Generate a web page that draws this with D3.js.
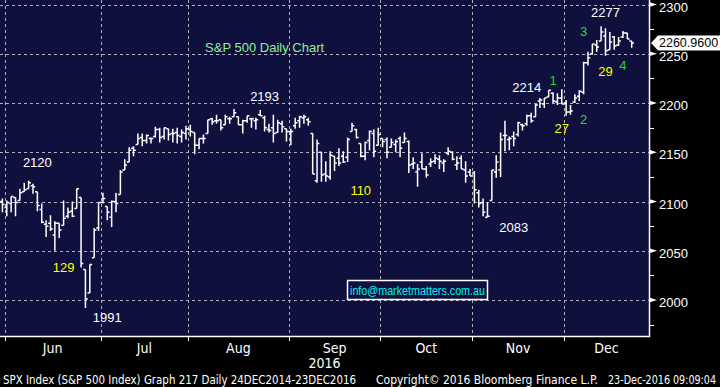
<!DOCTYPE html>
<html>
<head>
<meta charset="utf-8">
<script src="https://cdn.jsdelivr.net/npm/d3@7"></script>
<style>
  body { margin: 0; background: #000; }
  svg { display: block; }
</style>
</head>
<body>
<div id="chart"></div>
<script>
const width = 720,
    height = 387,
    panel = ({ left: 0, top: 0, right: 649, bottom: 336 });

// S&P 500 daily bars, 27 May - 22 Dec 2016
const dates = [
  "2016-05-27","2016-05-31",
  "2016-06-01","2016-06-02","2016-06-03","2016-06-06","2016-06-07","2016-06-08","2016-06-09","2016-06-10",
  "2016-06-13","2016-06-14","2016-06-15","2016-06-16","2016-06-17","2016-06-20","2016-06-21","2016-06-22",
  "2016-06-23","2016-06-24","2016-06-27","2016-06-28","2016-06-29","2016-06-30",
  "2016-07-01","2016-07-05","2016-07-06","2016-07-07","2016-07-08","2016-07-11","2016-07-12","2016-07-13",
  "2016-07-14","2016-07-15","2016-07-18","2016-07-19","2016-07-20","2016-07-21","2016-07-22","2016-07-25",
  "2016-07-26","2016-07-27","2016-07-28","2016-07-29",
  "2016-08-01","2016-08-02","2016-08-03","2016-08-04","2016-08-05","2016-08-08","2016-08-09","2016-08-10",
  "2016-08-11","2016-08-12","2016-08-15","2016-08-16","2016-08-17","2016-08-18","2016-08-19","2016-08-22",
  "2016-08-23","2016-08-24","2016-08-25","2016-08-26","2016-08-29","2016-08-30","2016-08-31",
  "2016-09-01","2016-09-02","2016-09-06","2016-09-07","2016-09-08","2016-09-09","2016-09-12","2016-09-13",
  "2016-09-14","2016-09-15","2016-09-16","2016-09-19","2016-09-20","2016-09-21","2016-09-22","2016-09-23",
  "2016-09-26","2016-09-27","2016-09-28","2016-09-29","2016-09-30",
  "2016-10-03","2016-10-04","2016-10-05","2016-10-06","2016-10-07","2016-10-10","2016-10-11","2016-10-12",
  "2016-10-13","2016-10-14","2016-10-17","2016-10-18","2016-10-19","2016-10-20","2016-10-21","2016-10-24",
  "2016-10-25","2016-10-26","2016-10-27","2016-10-28","2016-10-31",
  "2016-11-01","2016-11-02","2016-11-03","2016-11-04","2016-11-07","2016-11-08","2016-11-09","2016-11-10",
  "2016-11-11","2016-11-14","2016-11-15","2016-11-16","2016-11-17","2016-11-18","2016-11-21","2016-11-22",
  "2016-11-23","2016-11-25","2016-11-28","2016-11-29","2016-11-30",
  "2016-12-01","2016-12-02","2016-12-05","2016-12-06","2016-12-07","2016-12-08","2016-12-09","2016-12-12",
  "2016-12-13","2016-12-14","2016-12-15","2016-12-16","2016-12-19","2016-12-20","2016-12-21","2016-12-22"
];

const opens = [
  2090,2100,
  2094,2098,2104,2101,2110,2113,2116,2110,2092,2077,2078,2066,2078,2076,2085,2090,2093,2104,2031,2007,2043,2073,
  2099,2095,2084,2100,2107,2132,2140,2154,2158,2165,2162,2164,2166,2173,2166,2174,2169,2170,2166,2169,
  2173,2170,2157,2164,2169,2184,2182,2183,2178,2184,2186,2186,2178,2182,2184,2182,2188,2185,2173,2175,2170,2179,2174,
  2171,2177,2182,2185,2183,2169,2121,2150,2128,2125,2146,2144,2146,2145,2171,2173,2159,2146,2162,2169,2157,
  2164,2163,2155,2158,2164,2160,2161,2138,2130,2140,2133,2138,2141,2143,2139,2149,2150,2137,2144,2132,2130,
  2129,2109,2099,2084,2101,2130,2132,2167,2163,2166,2168,2178,2179,2187,2186,2202,2199,2206,2210,2201,2205,
  2200,2191,2201,2207,2211,2241,2250,2259,2263,2268,2254,2267,2259,2267,2271,2263
];

const highs = [
  2099,2103,
  2101,2105,2104,2113,2119,2121,2118,2110,2098,2081,2086,2080,2078,2101,2094,2100,2113,2104,2031,2036,2073,2099,
  2109,2095,2101,2109,2132,2143,2155,2156,2169,2169,2168,2165,2176,2175,2175,2174,2174,2175,2173,2177,
  2178,2170,2164,2168,2183,2185,2188,2183,2188,2186,2194,2186,2183,2187,2185,2185,2193,2187,2179,2188,2183,2182,2174,
  2174,2185,2187,2188,2185,2169,2163,2150,2141,2151,2146,2154,2151,2165,2180,2174,2159,2161,2172,2173,2175,
  2164,2165,2164,2163,2166,2170,2162,2145,2138,2149,2136,2144,2148,2147,2143,2155,2151,2146,2147,2141,2133,
  2131,2112,2103,2099,2132,2147,2170,2182,2166,2171,2181,2179,2188,2190,2199,2205,2205,2213,2211,2210,2214,
  2203,2198,2209,2213,2242,2252,2260,2264,2278,2276,2272,2268,2267,2273,2271,2263
];

const lows = [
  2090,2089,
  2085,2089,2085,2101,2110,2113,2108,2090,2078,2064,2070,2050,2063,2076,2083,2084,2093,2033,1992,2007,2043,2070,
  2098,2081,2074,2089,2107,2132,2140,2146,2158,2156,2159,2159,2165,2160,2163,2162,2160,2159,2160,2163,
  2166,2148,2153,2159,2169,2178,2179,2172,2178,2179,2186,2178,2169,2180,2175,2173,2187,2171,2170,2160,2170,2170,2161,
  2157,2174,2175,2179,2177,2128,2119,2120,2120,2122,2131,2136,2139,2140,2171,2164,2145,2142,2152,2145,2157,
  2155,2144,2155,2150,2145,2160,2129,2133,2115,2133,2124,2135,2138,2133,2130,2147,2142,2132,2133,2119,2126,
  2098,2094,2085,2084,2101,2124,2125,2151,2152,2156,2166,2172,2177,2180,2186,2195,2195,2206,2200,2198,2199,
  2187,2188,2200,2202,2209,2238,2249,2252,2263,2248,2254,2254,2258,2266,2265,2256
];

const closes = [
  2099,2097,
  2099,2105,2099,2109,2112,2119,2115,2096,2079,2075,2072,2078,2071,2083,2089,2085,2113,2037,2001,2036,2071,2099,
  2103,2089,2100,2098,2130,2137,2152,2152,2164,2162,2167,2164,2173,2165,2175,2168,2169,2167,2170,2174,
  2171,2157,2164,2164,2183,2181,2182,2175,2186,2184,2190,2178,2182,2187,2184,2183,2187,2175,2172,2169,2180,2176,2171,
  2171,2180,2186,2186,2181,2128,2159,2127,2126,2147,2139,2139,2140,2163,2177,2165,2146,2160,2171,2151,2168,
  2161,2150,2160,2161,2154,2164,2137,2139,2133,2133,2127,2140,2144,2141,2141,2151,2143,2139,2133,2126,2126,
  2112,2098,2089,2085,2132,2140,2163,2167,2164,2164,2180,2177,2187,2182,2198,2203,2205,2213,2202,2205,2199,
  2191,2192,2205,2212,2241,2246,2260,2257,2272,2253,2262,2258,2263,2271,2265,2260.96
];

const yTicks = [2000, 2050, 2100, 2150, 2200, 2250, 2300];
const yMinorTicks = [1975, 2025, 2075, 2125, 2175, 2225, 2275];
const lastPrice = 2260.96;

// chart annotations: text, date it sits over, price level of its baseline
const notes = [
  { text: "S&P 500 Daily Chart", date: "2016-08-24", price: 2252, color: "#8fef8f" },
  { text: "2120", date: "2016-06-10", price: 2135, color: "#ffffff" },
  { text: "129", date: "2016-06-20", price: 2028, color: "#ffff00" },
  { text: "1991", date: "2016-07-05", price: 1978, color: "#ffffff" },
  { text: "2193", date: "2016-08-24", price: 2202, color: "#ffffff" },
  { text: "110", date: "2016-09-26", price: 2107, color: "#ffff00" },
  { text: "2083", date: "2016-11-14", price: 2069, color: "#ffffff" },
  { text: "2214", date: "2016-11-17", price: 2211, color: "#ffffff" },
  { text: "1", date: "2016-11-28", price: 2218, color: "#22dd22" },
  { text: "27", date: "2016-11-30", price: 2170, color: "#ffff00" },
  { text: "2", date: "2016-12-07", price: 2179, color: "#22dd22" },
  { text: "3", date: "2016-12-07", price: 2268, color: "#22dd22" },
  { text: "2277", date: "2016-12-14", price: 2287, color: "#ffffff" },
  { text: "29", date: "2016-12-14", price: 2227, color: "#ffff00" },
  { text: "4", date: "2016-12-20", price: 2234, color: "#22dd22" }
];

const monthNames = ["Jan","Feb","Mar","Apr","May","Jun","Jul","Aug","Sep","Oct","Nov","Dec"];

const svg = d3.select("#chart")
  .append("svg")
  .attr("width", width)
  .attr("height", height)
  .attr("viewBox", [0, 0, width, height]);

const parse = d3.timeParse("%Y-%m-%d");
const bars = dates.map((d, i) => ({
  i: i, date: parse(d), o: opens[i], h: highs[i], l: lows[i], c: closes[i]
}));

// one slot per trading day
let x = d3.scaleLinear()
  .domain([0.45, 148.96])
  .range([panel.left, panel.right]);

let y = d3.scaleLinear()
  .domain([1963.45, 2304.6])
  .range([panel.bottom, panel.top]);

const idx = d => dates.indexOf(d);

svg.append("rect")
  .attr("x", panel.left).attr("y", panel.top)
  .attr("width", panel.right - panel.left)
  .attr("height", panel.bottom - panel.top)
  .attr("fill", "#10103f");

svg.append("clipPath").attr("id", "clip")
  .append("rect")
  .attr("x", panel.left).attr("y", panel.top)
  .attr("width", panel.right - panel.left)
  .attr("height", panel.bottom - panel.top);

// month boundaries (between last day of a month and first of the next)
let monthStarts = [];
bars.forEach((b, i) => {
  if (i > 0 && b.date.getMonth() !== bars[i - 1].date.getMonth()) monthStarts.push(i);
});
const monthX = monthStarts.map(d => Math.round(x(d - 0.5)) + 0.5);

// dashed grid
const gridPath = yTicks.map(d => `M${panel.left},${Math.round(y(d)) + 0.5}H${panel.right}`).join("")
  + monthX.map(px => `M${px},${panel.top}V${panel.bottom}`).join("");
svg.append("path")
  .attr("d", gridPath)
  .attr("fill", "none")
  .attr("stroke", "#b0b0c0")
  .attr("stroke-width", 1)
  .attr("stroke-dasharray", "3,3");

// OHLC bars
svg.append("g")
  .attr("clip-path", "url(#clip)")
  .attr("fill", "none")
  .attr("stroke", "#ffffff")
  .attr("stroke-width", 1.5)
  .selectAll("path")
  .data(bars)
  .join("path")
  .attr("d", d => {
    const cx = x(d.i);
    return `M${cx},${y(d.h)}V${y(d.l)}M${cx - 2.3},${y(d.o)}H${cx}M${cx},${y(d.c)}H${cx + 2.3}`;
  });

// annotations
svg.append("g")
  .attr("font-family", "'Liberation Sans', Arial, sans-serif")
  .attr("font-size", 13)
  .attr("text-anchor", "middle")
  .selectAll("text")
  .data(notes)
  .join("text")
  .attr("x", d => x(idx(d.date)))
  .attr("y", d => y(d.price))
  .attr("fill", d => d.color)
  .text(d => d.text);

// email box
const info = svg.append("g");
info.append("rect")
  .attr("x", 347.5).attr("y", 280.5)
  .attr("width", 140).attr("height", 19)
  .attr("fill", "#10103f")
  .attr("stroke", "#ffffff")
  .attr("stroke-width", 1.5);
info.append("text")
  .attr("x", 350).attr("y", 295)
  .attr("textLength", 135).attr("lengthAdjust", "spacingAndGlyphs")
  .attr("font-family", "'Liberation Sans', Arial, sans-serif")
  .attr("font-size", 13)
  .attr("fill", "#00f0f0")
  .text("info@marketmatters.com.au");

// frame on right and bottom
svg.append("path")
  .attr("d", `M${panel.right + 0.5},${panel.top}V${panel.bottom + 0.5}H${panel.left}`)
  .attr("fill", "none")
  .attr("stroke", "#ffffff")
  .attr("stroke-width", 1.5);

// right axis
const yAxis = svg.append("g");
yAxis.selectAll("path.maj")
  .data(yTicks)
  .join("path")
  .attr("class", "maj")
  .attr("d", d => `M${panel.right},${y(d) - 2.5}L${panel.right + 8},${y(d)}L${panel.right},${y(d) + 2.5}Z`)
  .attr("fill", "#ffffff");
yAxis.selectAll("line.min")
  .data(yMinorTicks)
  .join("line")
  .attr("class", "min")
  .attr("x1", panel.right).attr("x2", panel.right + 5)
  .attr("y1", d => Math.round(y(d)) + 0.5)
  .attr("y2", d => Math.round(y(d)) + 0.5)
  .attr("stroke", "#ffffff");
yAxis.selectAll("text")
  .data(yTicks)
  .join("text")
  .attr("x", panel.right + 10)
  .attr("y", d => y(d) + 7)
  .attr("font-family", "'Liberation Sans', Arial, sans-serif")
  .attr("font-size", 13)
  .attr("fill", "#ffffff")
  .text(d => d);

// last price flag
const yl = y(lastPrice);
svg.append("path")
  .attr("d", `M${panel.right + 2},${yl}L${panel.right + 9},${yl - 7.5}H${width}V${yl + 7.5}H${panel.right + 9}Z`)
  .attr("fill", "#ffffff");
svg.append("text")
  .attr("x", panel.right + 10)
  .attr("y", yl + 4.5)
  .attr("font-family", "'Liberation Sans', Arial, sans-serif")
  .attr("font-size", 12.5)
  .attr("fill", "#000000")
  .text(d3.format(".4f")(lastPrice));

// bottom axis ticks
svg.append("path")
  .attr("d", monthX.map(px => `M${px},${panel.bottom}V${panel.bottom + 5}`).join(""))
  .attr("stroke", "#ffffff")
  .attr("stroke-width", 1);

const monthEdges = monthStarts.map(d => x(d - 0.5)).concat([panel.right]);
svg.append("g")
  .attr("font-family", "'Liberation Sans Narrow', 'DejaVu Sans Condensed', sans-serif")
  .attr("font-size", 14)
  .attr("fill", "#ffffff")
  .attr("text-anchor", "middle")
  .selectAll("text")
  .data(monthStarts)
  .join("text")
  .attr("x", (d, k) => (monthEdges[k] + monthEdges[k + 1]) / 2)
  .attr("y", 353)
  .text(d => monthNames[bars[d].date.getMonth()]);

svg.append("text")
  .attr("x", (panel.left + panel.right) / 2)
  .attr("y", 368)
  .attr("text-anchor", "middle")
  .attr("font-family", "'Liberation Sans Narrow', 'DejaVu Sans Condensed', sans-serif")
  .attr("font-size", 14)
  .attr("fill", "#ffffff")
  .text("2016");

// footer
const footer = svg.append("g")
  .attr("font-family", "'Liberation Sans Narrow', 'DejaVu Sans Condensed', sans-serif")
  .attr("font-size", 12)
  .attr("fill", "#ffffff");
footer.append("text").attr("x", 3).attr("y", 384)
  .attr("textLength", 353).attr("lengthAdjust", "spacingAndGlyphs")
  .text("SPX Index (S&P 500 Index) Graph 217  Daily 24DEC2014-23DEC2016");
footer.append("text").attr("x", 376).attr("y", 384)
  .attr("textLength", 222).attr("lengthAdjust", "spacingAndGlyphs")
  .text("Copyright\u00a9 2016 Bloomberg Finance L.P.");
footer.append("text").attr("x", 716).attr("y", 384)
  .attr("text-anchor", "end")
  .attr("font-size", 11.5)
  .attr("textLength", 108).attr("lengthAdjust", "spacingAndGlyphs")
  .text("23-Dec-2016 09:09:04");
</script>
</body>
</html>
